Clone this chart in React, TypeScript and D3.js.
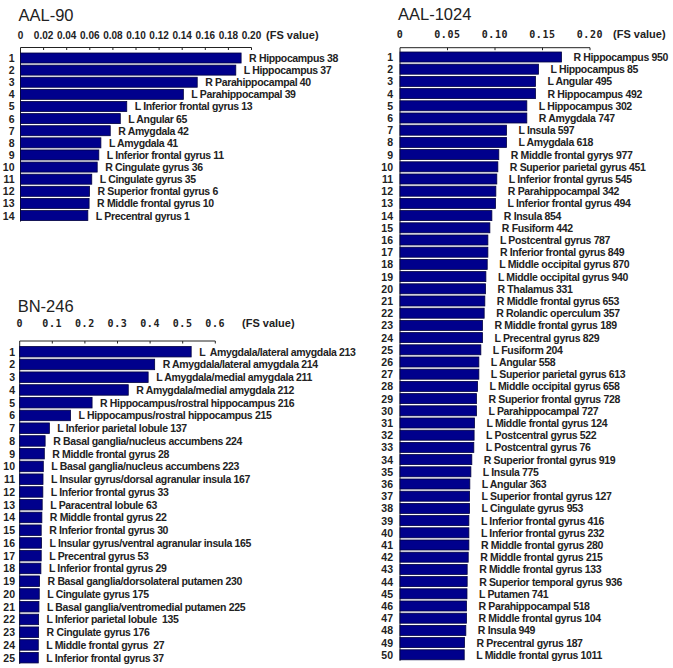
import React from "react";
import * as d3 from "d3";

// ---------- DATA ----------
const aal90Labels = [
  "R Hippocampus 38", "L Hippocampus 37", "R Parahippocampal 40", "L Parahippocampal 39",
  "L Inferior frontal gyrus 13", "L Angular 65", "R Amygdala 42", "L Amygdala 41",
  "L Inferior frontal gyrus 11", "R Cingulate gyrus 36", "L Cingulate gyrus 35",
  "R Superior frontal gyrus 6", "R Middle frontal gyrus 10", "L Precentral gyrus 1",
];
const aal90Values = [0.191, 0.1864, 0.153, 0.141, 0.092, 0.0864, 0.0777, 0.0696, 0.0678, 0.0664, 0.0617, 0.0597, 0.0594, 0.0583];
const aal90Ticks = [0, 0.02, 0.04, 0.06, 0.08, 0.1, 0.12, 0.14, 0.16, 0.18, 0.2];
const aal90TickLabels = ["0", "0.02", "0.04", "0.06", "0.08", "0.10", "0.12", "0.14", "0.16", "0.18", "0.20"];

const bnLabels = [
  "L  Amygdala/lateral amygdala 213", "R Amygdala/lateral amygdala 214", "L Amygdala/medial amygdala 211",
  "R Amygdala/medial amygdala 212", "R Hippocampus/rostral hippocampus 216", "L Hippocampus/rostral hippocampus 215",
  "L Inferior parietal lobule 137", "R Basal ganglia/nucleus accumbens 224", "R Middle frontal gyrus 28",
  "L Basal ganglia/nucleus accumbens 223", "L Insular gyrus/dorsal agranular insula 167", "L Inferior frontal gyrus 33",
  "L Paracentral lobule 63", "R Middle frontal gyrus 22", "R Inferior frontal gyrus 30",
  "L Insular gyrus/ventral agranular insula 165", "L Precentral gyrus 53", "L Inferior frontal gyrus 29",
  "R Basal ganglia/dorsolateral putamen 230", "L Cingulate gyrus 175", "L Basal ganglia/ventromedial putamen 225",
  "L Inferior parietal lobule  135", "R Cingulate gyrus 176", "L Middle frontal gyrus  27", "L Inferior frontal gyrus 37",
];
const bnValues = [0.526, 0.414, 0.394, 0.333, 0.222, 0.156, 0.091, 0.078, 0.0755, 0.0724, 0.0715, 0.071, 0.069, 0.068, 0.066,
  0.067, 0.066, 0.065, 0.061, 0.06, 0.059, 0.058, 0.058, 0.057, 0.057];
const bnTicks = [0, 0.1, 0.2, 0.3, 0.4, 0.5, 0.6];
const bnTickLabels = ["0", "0.1", "0.2", "0.3", "0.4", "0.5", "0.6"];

const aal1024Labels = [
  "R Hippocampus 950", "L Hippocampus 85", "L Angular 495", "R Hippocampus 492", "L Hippocampus 302",
  "R Amygdala 747", "L Insula 597", "L Amygdala 618", "R Middle frontal gyrys 977", "R Superior parietal gyrus 451",
  "L Inferior frontal gyrus 545", "R Parahippocampal 342", "L Inferior frontal gyrus 494", "R Insula 854", "R Fusiform 442",
  "L Postcentral gyrus 787", "R Inferior frontal gyrus 849", "L Middle occipital gyrus 870", "L Middle occipital gyrus 940", "R Thalamus 331",
  "R Middle frontal gyrus 653", "R Rolandic operculum 357", "R Middle frontal gyrus 189", "L Precentral gyrus 829", "L Fusiform 204",
  "L Angular 558", "L Superior parietal gyrus 613", "L Middle occipital gyrus 658", "R Superior frontal gyrus 728", "L Parahippocampal 727",
  "L Middle frontal gyrus 124", "L Postcentral gyrus 522", "L Postcentral gyrus 76", "R Superior frontal gyrus 919", "L Insula 775",
  "L Angular 363", "L Superior frontal gyrus 127", "L Cingulate gyrus 953", "L Inferior frontal gyrus 416", "L Inferior frontal gyrus 232",
  "R Middle frontal gyrus 280", "R Middle frontal gyrus 215", "R Middle frontal gyrus 133", "R Superior temporal gyrus 936", "L Putamen 741",
  "R Parahippocampal 518", "R Middle frontal gyrus 104", "R Insula 949", "R Precentral gyrus 187", "L Middle frontal gyrus 1011",
];
const aal1024Values = [0.17, 0.1458, 0.1426, 0.1426, 0.1335, 0.1335, 0.1121, 0.1121, 0.104, 0.103,
  0.1019, 0.1009, 0.1005, 0.0967, 0.0946, 0.0925, 0.0925, 0.0918, 0.0904, 0.09,
  0.0893, 0.0886, 0.0868, 0.0868, 0.0851, 0.083, 0.083, 0.0816, 0.0805, 0.0805,
  0.0784, 0.078, 0.0777, 0.0756, 0.0746, 0.0735, 0.0732, 0.0732, 0.0725, 0.0725,
  0.0725, 0.0718, 0.0707, 0.0707, 0.0705, 0.07, 0.07, 0.0693, 0.0679, 0.0676];
const aal1024Ticks = [0, 0.05, 0.1, 0.15, 0.2];
const aal1024TickLabels = ["0", "0.05", "0.10", "0.15", "0.20"];

// ---------- STYLE ----------
const BAR = "#00008c";
const BAR_EDGE = "#000040";
const LABEL_FONT = "'Liberation Sans', Arial, sans-serif";
const MONO_FONT = "'DejaVu Sans Mono', 'Liberation Mono', monospace";

type PanelProps = {
  title: string;
  labels: string[];
  values: number[];
  ticks: number[];
  tickLabels: string[];
  domainMax: number;
  x0: number;
  x1: number;
  titleY: number;
  tickLabelY: number;
  axisY: number;
  firstRowY: number;
  step: number;
  barH: number;
  gap: number;
  numRight: number;
  unitX: number;
  mono?: boolean;
};

function Panel(p: PanelProps) {
  const x = d3.scaleLinear().domain([0, p.domainMax]).range([p.x0, p.x1]);
  const y = (i: number) => p.firstRowY + i * p.step;
  const lastBottom = y(p.values.length - 1) + p.barH / 2;
  return (
    <g>
      <text x={p.x0 - 2} y={p.titleY} fontFamily={LABEL_FONT} fontSize={16.5} fill="#222">{p.title}</text>
      {p.ticks.map((t, i) => (
        <text key={"tl" + i} x={x(t)} y={p.tickLabelY} textAnchor="middle"
          fontFamily={p.mono ? MONO_FONT : LABEL_FONT} fontWeight="bold" fontSize={p.mono ? 10 : 10}
          letterSpacing={p.mono ? 0.6 : 0} fill="#222">{p.tickLabels[i]}</text>
      ))}
      <text x={p.unitX} y={p.tickLabelY} fontFamily={LABEL_FONT} fontWeight="bold" fontSize={11} fill="#222">(FS value)</text>
      <line x1={x(0)} x2={x(p.domainMax)} y1={p.axisY} y2={p.axisY} stroke="#222" strokeWidth={1} />
      {p.ticks.slice(1).map((t, i) => (
        <line key={"tk" + i} x1={x(t)} x2={x(t)} y1={p.axisY} y2={p.axisY + 2.5} stroke="#222" strokeWidth={1} />
      ))}
      <line x1={x(0)} x2={x(0)} y1={p.axisY} y2={lastBottom + 1} stroke="#222" strokeWidth={1} />
      {p.values.map((v, i) => (
        <g key={"r" + i}>
          <rect x={x(0)} y={y(i) - p.barH / 2} width={x(v) - x(0)} height={p.barH}
            fill={BAR} stroke={BAR_EDGE} strokeWidth={0.8} />
          <text x={p.numRight} y={y(i) + 4} textAnchor="end" fontFamily={LABEL_FONT} fontWeight="bold"
            fontSize={10.5} fill="#222">{i + 1}</text>
          <text x={x(v) + p.gap} y={y(i) + 4} fontFamily={LABEL_FONT} fontWeight="bold" fontSize={10.5}
            letterSpacing={-0.35} fill="#222" style={{ whiteSpace: "pre" }}>{p.labels[i]}</text>
        </g>
      ))}
    </g>
  );
}

export default function App() {
  return (
    <svg width={673} height={668} style={{ position: "absolute", left: 0, top: 0, background: "#fff" }}>
      <rect x={0} y={0} width={673} height={668} fill="#fff" />
      <Panel title="AAL-90" labels={aal90Labels} values={aal90Values} ticks={aal90Ticks} tickLabels={aal90TickLabels}
        domainMax={0.2} x0={20.5} x1={251.5} titleY={21} tickLabelY={39} axisY={47.5} firstRowY={58}
        step={12.12} barH={10} gap={8} numRight={14.5} unitX={266} />
      <Panel title="BN-246" labels={bnLabels} values={bnValues} ticks={bnTicks} tickLabels={bnTickLabels}
        domainMax={0.6} x0={19.7} x1={215.3} titleY={312} tickLabelY={327} axisY={341} firstRowY={351.7}
        step={12.75} barH={10.5} gap={8} numRight={15} unitX={242} mono />
      <Panel title="AAL-1024" labels={aal1024Labels} values={aal1024Values} ticks={aal1024Ticks} tickLabels={aal1024TickLabels}
        domainMax={0.2} x0={400} x1={590} titleY={20} tickLabelY={38} axisY={47.7} firstRowY={57}
        step={12.2} barH={10} gap={12} numRight={393} unitX={613} mono />
    </svg>
  );
}
